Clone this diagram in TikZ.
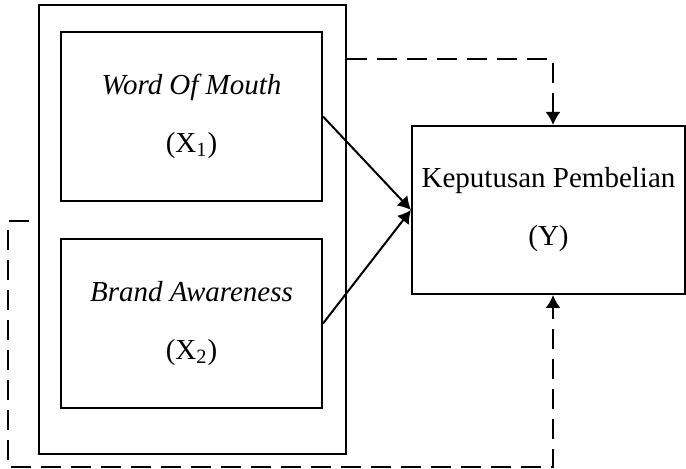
\documentclass[tikz,border=0pt]{standalone}
\usepackage{fontspec}
\setmainfont{Liberation Serif}
\usetikzlibrary{arrows.meta}

\begin{document}
\begin{tikzpicture}[x=0.5pt,y=-0.5pt,line width=1pt,
	varbox/.style={draw,minimum width=130.5pt,minimum height=84.5pt,align=center,
		font=\fontsize{14.5}{29}\selectfont},
	solidarrow/.style={-{Latex[length=6.5pt,width=7.5pt]}},
	dasharrow/.style={-{Latex[length=6.5pt,width=7.5pt]},dash pattern=on 10pt off 5pt}]
	\useasboundingbox (0,0) rectangle (686,469);
	\node [draw,minimum width=153.5pt,minimum height=224.5pt] (outer) at (192.5,229.5) {};
	\node [varbox] (wom) at (191.5,116.5) {\textit{Word Of Mouth}\\(X\textsubscript{1})};
	\node [varbox] (ba) at (191.5,323.5) {\textit{Brand Awareness}\\(X\textsubscript{2})};
	\node [varbox,minimum width=136.5pt,minimum height=84pt] (kp) at (548.5,210) {Keputusan Pembelian\\(Y)};
	\coordinate (topturn) at (553,59);
	\coordinate (leftturn) at (8,221);
	\coordinate (bottomturn) at (553,467);
	\draw [solidarrow] (wom.east) -- (kp.west);
	\draw [solidarrow] (ba.east) -- (kp.west);
	\draw [dasharrow] (outer.east |- topturn) -| (topturn |- kp.north);
	\draw [dasharrow,dash phase=10.5pt] (outer.west |- leftturn) -- (leftturn) |- (bottomturn) -- (bottomturn |- kp.south);
\end{tikzpicture}
\end{document}
